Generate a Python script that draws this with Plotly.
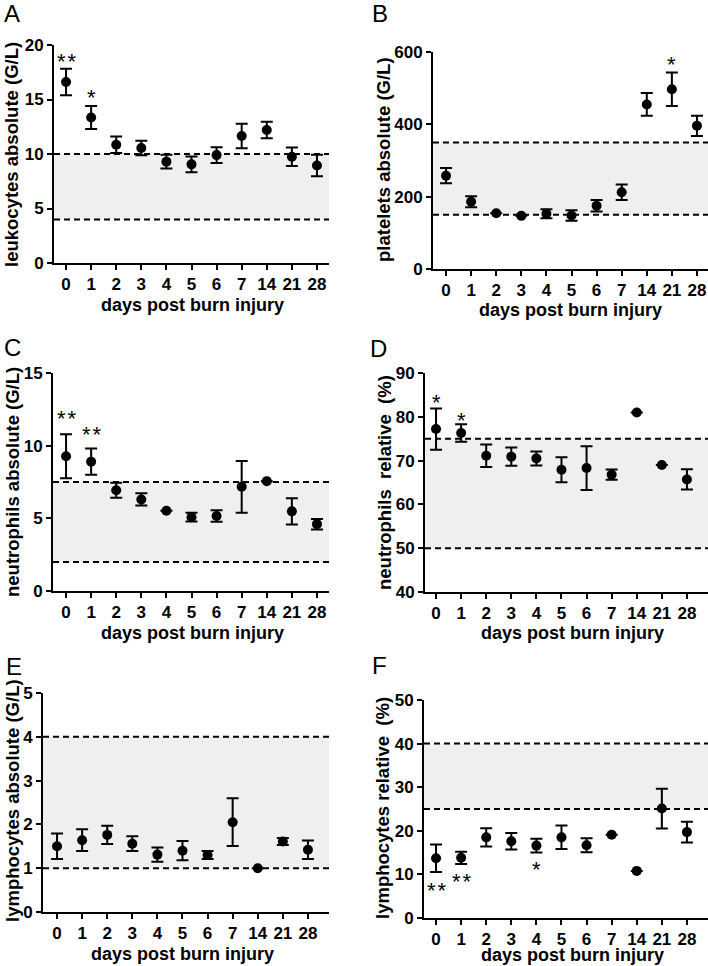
import plotly.graph_objects as go

W, H = 708, 966

days = ["0", "1", "2", "3", "4", "5", "6", "7", "14", "21", "28"]

leuko_mean = [16.6, 13.35, 10.85, 10.55, 9.3, 9.05, 9.9, 11.65, 12.2, 9.75, 8.95]
leuko_sem = [1.22, 1.05, 0.75, 0.67, 0.64, 0.73, 0.72, 1.13, 0.75, 0.85, 0.99]
leuko_ref = [4, 10]

plt_mean = [258, 186, 154, 147, 153, 148, 175, 212, 455, 497, 396]
plt_sem = [21, 15, None, None, 12.5, 14.5, 16, 21.5, 31.5, 46.5, 28]
plt_ref = [150, 350]

neuabs_mean = [9.27, 8.9, 6.93, 6.3, 5.52, 5.08, 5.16, 7.17, 7.56, 5.48, 4.6]
neuabs_sem = [1.52, 0.9, 0.52, 0.42, None, 0.3, 0.4, 1.78, None, 0.9, 0.36]
neuabs_ref = [2, 7.5]

neurel_mean = [77.2, 76.3, 71.1, 70.9, 70.5, 67.9, 68.3, 66.8, 81.0, 69.0, 65.7]
neurel_sem = [4.7, 2.0, 2.55, 2.1, 1.6, 2.85, 5.0, 1.15, None, None, 2.3]
neurel_ref = [50, 75]

lymabs_mean = [1.50, 1.64, 1.76, 1.56, 1.31, 1.40, 1.30, 2.05, 1.00, 1.61, 1.42]
lymabs_sem = [0.29, 0.25, 0.21, 0.17, 0.16, 0.22, 0.09, 0.545, None, 0.08, 0.21]
lymabs_ref = [1, 4]

lymrel_mean = [13.7, 13.8, 18.5, 17.6, 16.6, 18.5, 16.7, 19.1, 10.8, 25.1, 19.7]
lymrel_sem = [3.15, 1.4, 2.1, 1.9, 1.6, 2.7, 1.6, None, None, 4.55, 2.4]
lymrel_ref = [25, 40]

# significance marks: (day index, y value, text)
leuko_sig = [(0, 18.9, "**"), (1, 15.6, "*")]
plt_sig = [(9, 580, "*")]
neuabs_sig = [(0, 12.2, "**"), (1, 11.1, "**")]
neurel_sig = [(0, 84.4, "*"), (1, 80.4, "*")]
lymabs_sig = []
lymrel_sig = [(0, 7.4, "**"), (1, 9.5, "**"), (4, 12.3, "*")]

ylabels = ["leukocytes absolute (G/L)", "platelets absolute (G/L)",
           "neutrophils absolute (G/L)", "neutrophils\u00a0\u00a0relative\u00a0\u00a0(%)",
           "lymphocytes absolute (G/L)", "lymphocytes relative\u00a0\u00a0(%)"]
xlabel = "days post burn injury"
letters = ["A", "B", "C", "D", "E", "F"]
yranges = [[0, 20], [0, 600], [0, 15], [40, 90], [0, 5], [0, 50]]
ytickvals = [[0, 5, 10, 15, 20], [0, 200, 400, 600], [0, 5, 10, 15],
             [40, 50, 60, 70, 80, 90], [0, 1, 2, 3, 4, 5], [0, 10, 20, 30, 40, 50]]

panels = [
    (leuko_mean, leuko_sem, leuko_ref, leuko_sig),
    (plt_mean, plt_sem, plt_ref, plt_sig),
    (neuabs_mean, neuabs_sem, neuabs_ref, neuabs_sig),
    (neurel_mean, neurel_sem, neurel_ref, neurel_sig),
    (lymabs_mean, lymabs_sem, lymabs_ref, lymabs_sig),
    (lymrel_mean, lymrel_sem, lymrel_ref, lymrel_sig),
]

# layout geometry in pixels: (x_left, x_right, y_top, y_bottom, xrange)
geom = [
    (54, 329, 45, 263, [-0.48, 10.48]),
    (433, 708, 52, 269, [-0.52, 10.44]),
    (53, 329, 373, 591, [-0.52, 10.48]),
    (425, 708, 373, 592, [-0.44, 10.84]),
    (43, 329, 693, 912, [-0.56, 10.84]),
    (424, 708, 700, 918, [-0.48, 10.84]),
]
xtitle_pos = [(192, 305), (570, 310), (192, 633), (572, 633), (183, 954), (572, 954.5)]
ytitle_pos = [(12, 155), (384, 160), (12, 482), (384, 483), (12, 801), (382, 808)]
letter_pos = [(2, 14), (370, 13), (2, 347), (368, 349), (4, 666), (370, 665)]

FONT = "Liberation Sans, Arial, Helvetica, sans-serif"

fig = go.Figure()
layout = dict(width=W, height=H, margin=dict(l=0, r=0, t=0, b=0, autoexpand=False),
              paper_bgcolor="white", plot_bgcolor="white", showlegend=False,
              font=dict(family=FONT, color="black"))
shapes = []
annotations = []

xidx = list(range(len(days)))
tickfont = dict(family=FONT, size=17, color="black")

for i, ((mean, sem, ref, sig), (xl, xr, yt, yb, xrng)) in enumerate(zip(panels, geom)):
    n = "" if i == 0 else str(i + 1)
    xa, ya = "x" + n, "y" + n
    fig.add_trace(go.Scatter(
        x=xidx, y=mean, mode="markers", xaxis=xa, yaxis=ya,
        marker=dict(size=10, color="black"),
        error_y=dict(type="data", array=sem, visible=True, color="black",
                     thickness=2, width=6),
        cliponaxis=False, hoverinfo="skip"))
    layout["xaxis" + n] = dict(
        domain=[xl / W, xr / W], anchor=ya, range=xrng, automargin=False,
        tickvals=xidx, ticktext=["<b>%s</b>" % d for d in days],
        showline=True, linecolor="black",
        linewidth=2, ticks="outside", ticklen=5, tickwidth=2, tickcolor="black",
        showgrid=False, zeroline=False, tickfont=tickfont)
    layout["yaxis" + n] = dict(
        domain=[1 - yb / H, 1 - yt / H], anchor=xa, range=yranges[i], automargin=False,
        tickvals=ytickvals[i], ticktext=["<b>%d</b>" % v for v in ytickvals[i]],
        showline=True, linecolor="black",
        linewidth=2, ticks="outside", ticklen=5, tickwidth=2, tickcolor="black",
        showgrid=False, zeroline=False, tickfont=tickfont)
    # normal range shading and dashed limits
    shapes.append(dict(type="rect", xref=xa + " domain", yref=ya, x0=0, x1=1,
                       y0=ref[0], y1=ref[1], fillcolor="#efefef",
                       line=dict(width=0), layer="below"))
    for r in ref:
        shapes.append(dict(type="line", xref=xa + " domain", yref=ya, x0=0, x1=1,
                           y0=r, y1=r, line=dict(color="black", width=2,
                                                   dash="6px,4px"), layer="below"))
    for (di, yv, txt) in sig:
        annotations.append(dict(x=di, y=yv, xref=xa, yref=ya,
                                text=txt.replace("**", "*\u200a*"),
                                showarrow=False, xanchor="center", yanchor="middle",
                                yshift=-5,
                                font=dict(family=FONT, size=22, color="black")))
    tx, ty = xtitle_pos[i]
    annotations.append(dict(x=tx / W, y=1 - ty / H, xref="paper", yref="paper",
                            text="<b>%s</b>" % xlabel, showarrow=False, xanchor="center",
                            yanchor="middle",
                            font=dict(family=FONT, size=18, color="black")))
    qx, qy = ytitle_pos[i]
    annotations.append(dict(x=qx / W, y=1 - qy / H, xref="paper", yref="paper",
                            text="<b>%s</b>" % ylabels[i], showarrow=False, textangle=-90,
                            xanchor="center", yanchor="middle",
                            font=dict(family=FONT, size=18.5, color="black")))
    lx, ly = letter_pos[i]
    annotations.append(dict(x=lx / W, y=1 - ly / H, xref="paper", yref="paper",
                            text=letters[i], showarrow=False, xanchor="left",
                            yanchor="middle",
                            font=dict(family=FONT, size=24, color="black")))

layout["shapes"] = shapes
layout["annotations"] = annotations
fig.update_layout(**layout)
fig.write_html("out.html", config={"displayModeBar": False},
               post_script="document.body.style.margin='0';document.body.style.overflow='hidden';")
